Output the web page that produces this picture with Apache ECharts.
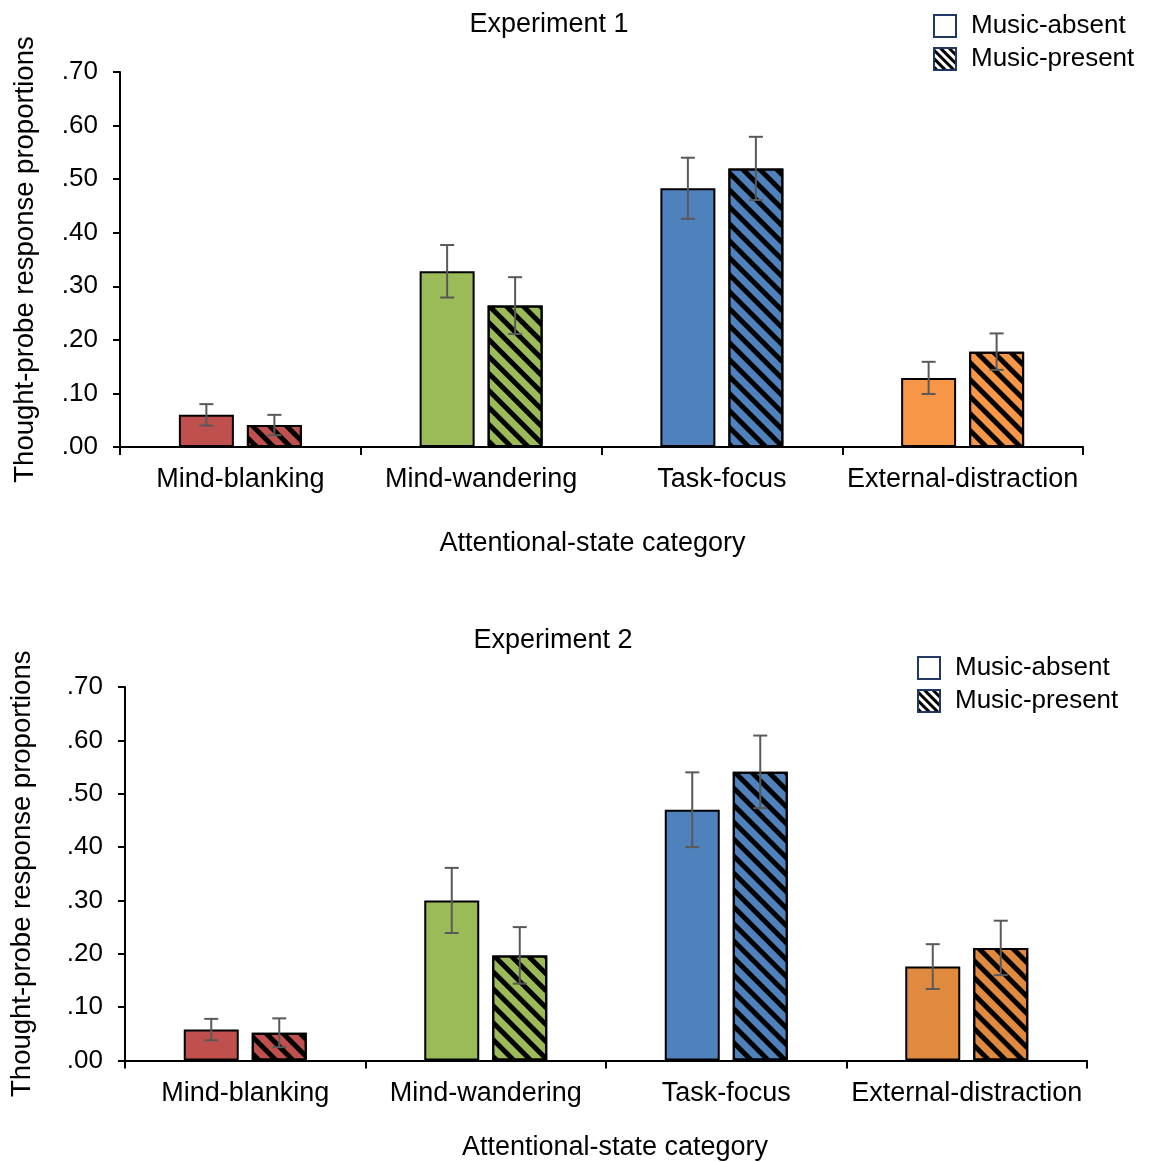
<!DOCTYPE html>
<html>
<head>
<meta charset="utf-8">
<script src="https://cdn.jsdelivr.net/npm/echarts@6/dist/echarts.min.js"></script>
<style>html,body{margin:0;padding:0;background:#fff;}#c{width:1151px;height:1162px;}</style>
</head>
<body>
<div id="c"></div>
<script>
var categories = ['Mind-blanking', 'Mind-wandering', 'Task-focus', 'External-distraction'];
var seriesNames = ['Music-absent', 'Music-present'];
var exp1Absent = [0.060, 0.328, 0.483, 0.129];
var exp1AbsentErr = [0.020, 0.049, 0.057, 0.030];
var exp1Present = [0.041, 0.264, 0.520, 0.178];
var exp1PresentErr = [0.019, 0.053, 0.059, 0.034];
var exp2Absent = [0.058, 0.300, 0.470, 0.176];
var exp2AbsentErr = [0.020, 0.061, 0.070, 0.042];
var exp2Present = [0.052, 0.197, 0.541, 0.211];
var exp2PresentErr = [0.027, 0.053, 0.068, 0.051];
var titles = ['Experiment 1', 'Experiment 2'];
var xAxisTitle = 'Attentional-state category';
var yAxisTitle = 'Thought-probe response proportions';
var yMin = 0, yMax = 0.7, yStep = 0.1;

var exp1Colors = ['#C0504D', '#9BBB59', '#4F81BD', '#F79646'];
var exp2Colors = ['#C0504D', '#9BBB59', '#4F81BD', '#DF8A3F'];

var FONT = '"Liberation Sans", Arial, sans-serif';
var BAR_W = 55, BAR_GAP = 13;
var OFFSET = (BAR_W + BAR_GAP) / 2;
var hatch = { symbol: 'rect', symbolSize: 1, dashArrayX: [1, 0], dashArrayY: [5, 7], rotation: Math.PI / 4, color: '#000' };
var legendHatch = { symbol: 'rect', symbolSize: 1, dashArrayX: [1, 0], dashArrayY: [2.5, 2.5], rotation: Math.PI / 4, color: '#000' };

function fmt(v) { return v.toFixed(2).replace(/^0/, ''); }

function barData(vals, colors) {
  return vals.map(function (v, i) { return { value: v, itemStyle: { color: colors[i] } }; });
}
function errData(vals, errs) {
  return vals.map(function (v, i) { return [i, v, errs[i]]; });
}
function errSeries(idx, vals, errs, dir) {
  return {
    type: 'custom', xAxisIndex: idx, yAxisIndex: idx, z: 10, silent: true,
    data: errData(vals, errs),
    renderItem: function (params, api) {
      var i = api.value(0), v = api.value(1), e = api.value(2);
      var c = api.coord([i, v]);
      var x = c[0] + dir * OFFSET;
      var t = api.coord([i, v + e])[1];
      var b = api.coord([i, v - e])[1];
      var st = { stroke: '#595959', lineWidth: 2 };
      return { type: 'group', children: [
        { type: 'line', shape: { x1: x, y1: t, x2: x, y2: b }, style: st },
        { type: 'line', shape: { x1: x - 7, y1: t, x2: x + 7, y2: t }, style: st },
        { type: 'line', shape: { x1: x - 7, y1: b, x2: x + 7, y2: b }, style: st }
      ] };
    }
  };
}
function barSeries(idx, name, vals, colors, decal) {
  var s = {
    type: 'bar', name: name, xAxisIndex: idx, yAxisIndex: idx,
    barWidth: BAR_W, barGap: (BAR_GAP / BAR_W * 100) + '%',
    data: barData(vals, colors),
    itemStyle: { borderColor: '#000', borderWidth: 2 }
  };
  if (decal) s.itemStyle.decal = decal;
  return s;
}

var grids = [
  { left: 120, right: 68, top: 72, bottom: 715 },
  { left: 124, right: 64, top: 687, bottom: 100 }
];
var xNameGap = [97, 87];
var xLabelMargin = [19, 20];
var xNamePad = [[0, 18, 0, 0], [0, 0, 0, 18]];
var yNameGap = [95, 103];

var xAxes = [], yAxes = [];
for (var g = 0; g < 2; g++) {
  xAxes.push({
    type: 'category', gridIndex: g, data: categories,
    axisLine: { lineStyle: { color: '#000', width: 2 } },
    axisTick: { show: true, length: 8, lineStyle: { color: '#000', width: 2 } },
    axisLabel: { interval: 0, fontSize: 27, color: '#000', fontFamily: FONT, margin: xLabelMargin[g] },
    name: xAxisTitle, nameLocation: 'middle', nameGap: xNameGap[g],
    nameTextStyle: { fontSize: 27, color: '#000', fontFamily: FONT, verticalAlign: 'middle', padding: xNamePad[g] }
  });
  yAxes.push({
    type: 'value', gridIndex: g, min: yMin, max: yMax, interval: yStep,
    axisLine: { show: true, lineStyle: { color: '#000', width: 2 } },
    axisTick: { show: true, length: 7, lineStyle: { color: '#000', width: 2 } },
    splitLine: { show: false },
    axisLabel: { fontSize: 26, color: '#000', fontFamily: FONT, margin: 22, formatter: fmt },
    name: yAxisTitle, nameLocation: 'middle', nameGap: yNameGap[g],
    nameTextStyle: { fontSize: 27.5, color: '#000', fontFamily: FONT, verticalAlign: 'middle' }
  });
}

var legendPos = [{ left: 933, top: 13 }, { left: 917, top: 655 }];
var legends = legendPos.map(function (p) {
  return {
    orient: 'vertical', left: p.left, top: p.top, padding: 0,
    itemWidth: 22, itemHeight: 22, itemGap: 7, selectedMode: false,
    textStyle: { fontSize: 26, color: '#000', fontFamily: FONT, padding: [0, 0, 0, 10] },
    data: [
      { name: seriesNames[0], icon: 'rect', itemStyle: { color: '#fff', borderColor: '#1F3864', borderWidth: 2, decal: 'none' } },
      { name: seriesNames[1], icon: 'rect', itemStyle: { color: '#fff', borderColor: '#1F3864', borderWidth: 2, decal: legendHatch } }
    ]
  };
});

var option = {
  backgroundColor: '#fff',
  animation: false,
  title: [
    { text: titles[0], left: 544, top: 6, textAlign: 'center', textStyle: { fontSize: 27, fontWeight: 'normal', color: '#000', fontFamily: FONT } },
    { text: titles[1], left: 548, top: 622, textAlign: 'center', textStyle: { fontSize: 27, fontWeight: 'normal', color: '#000', fontFamily: FONT } }
  ],
  legend: legends,
  grid: grids,
  xAxis: xAxes,
  yAxis: yAxes,
  series: [
    barSeries(0, seriesNames[0], exp1Absent, exp1Colors, null),
    barSeries(0, seriesNames[1], exp1Present, exp1Colors, hatch),
    barSeries(1, seriesNames[0], exp2Absent, exp2Colors, null),
    barSeries(1, seriesNames[1], exp2Present, exp2Colors, hatch),
    errSeries(0, exp1Absent, exp1AbsentErr, -1),
    errSeries(0, exp1Present, exp1PresentErr, 1),
    errSeries(1, exp2Absent, exp2AbsentErr, -1),
    errSeries(1, exp2Present, exp2PresentErr, 1)
  ]
};
var chart = echarts.init(document.getElementById('c'), null, { renderer: 'canvas' });
chart.setOption(option);
</script>
</body>
</html>
